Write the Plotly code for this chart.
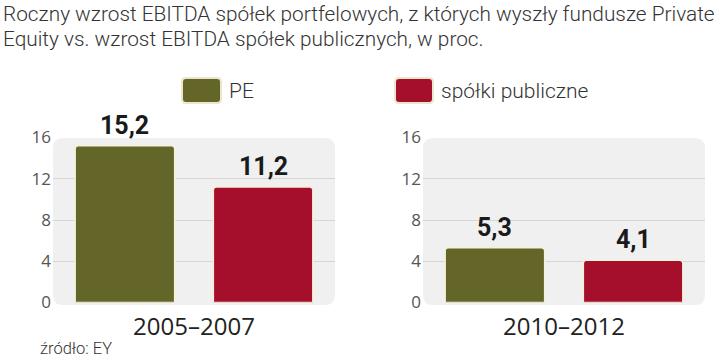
import plotly.graph_objects as go

# ---- data ----
periods = ["2005–2007", "2010–2012"]
series_names = ["PE", "spółki publiczne"]
pe_values = [15.2, 5.3]
public_values = [11.2, 4.1]
y_ticks = [0, 4, 8, 12, 16]
title_lines = [
    "Roczny wzrost EBITDA spółek portfelowych, z których wyszły fundusze Private",
    "Equity vs. wzrost EBITDA spółek publicznych, w proc.",
]
source_text = "źródło: EY"

colors = ["#646629", "#a50f2c"]
W, H = 720, 358
BARGAP, BARGROUPGAP = 0.02, 0.28

def fmt(v):
    return f"{v:.1f}".replace(".", ",")

def rrect(x0, y0, x1, y1, r):
    """rounded rectangle path in paper coords from pixel box (top-left origin)"""
    px0, px1 = x0 / W, x1 / W
    py0, py1 = 1 - y1 / H, 1 - y0 / H
    rx, ry = r / W, r / H
    return (f"M {px0+rx},{py0} L {px1-rx},{py0} Q {px1},{py0} {px1},{py0+ry} "
            f"L {px1},{py1-ry} Q {px1},{py1} {px1-rx},{py1} L {px0+rx},{py1} "
            f"Q {px0},{py1} {px0},{py1-ry} L {px0},{py0+ry} Q {px0},{py0} {px0+rx},{py0} Z")

# panel placement in pixels
panels_px = [(53, 335), (423, 705)]
y_bot_px, y_top_px = 302.5, 137.5

fig = go.Figure()
for i, period in enumerate(periods):
    xa = "x" if i == 0 else f"x{i+1}"
    ya = "y" if i == 0 else f"y{i+1}"
    for s, vals in enumerate([pe_values, public_values]):
        fig.add_trace(go.Bar(
            x=[period], y=[vals[i]], name=series_names[s],
            xaxis=xa, yaxis=ya, showlegend=False,
            marker=dict(color=colors[s], line=dict(color="#f4f1d8", width=1.5),
                        cornerradius=3),
            offsetgroup=str(s), hoverinfo="x+y",
        ))

tickfont = dict(family="Open Sans, Noto Sans, sans-serif", size=17, color="#555555")
catfont = dict(family="Open Sans, Noto Sans, sans-serif", size=24, color="#222222")
labfont = dict(family="Roboto, sans-serif", size=25, color="#1a1a1a", weight="bold")
txtfamily = "Roboto, sans-serif"

layout = dict(
    width=W, height=H, margin=dict(l=0, r=0, t=0, b=0, pad=0, autoexpand=False),
    template="none",
    paper_bgcolor="white", plot_bgcolor="rgba(0,0,0,0)",
    barmode="group", bargap=BARGAP, bargroupgap=BARGROUPGAP,
    showlegend=False,
)
shapes = []
annotations = []
ydom = [1 - y_bot_px / H, 1 - y_top_px / H]
for i, (x0, x1) in enumerate(panels_px):
    sx = "" if i == 0 else str(i + 1)
    layout[f"xaxis{sx}"] = dict(
        domain=[x0 / W, x1 / W], anchor=f"y{sx}", showgrid=False, zeroline=False,
        showline=False, ticks="", tickfont=catfont, fixedrange=True,
        automargin=False, ticklabelstandoff=7, range=[-0.5, 0.5],
        autorange=False,
    )
    layout[f"yaxis{sx}"] = dict(
        domain=ydom, anchor=f"x{sx}", range=[0, 16], tickvals=y_ticks,
        autorange=False,
        showgrid=True, gridcolor="#d6d6d6", gridwidth=1, zeroline=False,
        showline=False, ticks="", tickfont=tickfont, ticklabelstandoff=1,
        fixedrange=True, automargin=False,
    )
    # rounded light background panel
    shapes.append(dict(type="path", path=rrect(x0, 138, x1, 305, 10),
                       xref="paper", yref="paper",
                       fillcolor="#f0f0f0", line=dict(width=0), layer="below"))

    # value labels above bars (offset derived from bar group geometry)
    axis_w = x1 - x0
    slot = axis_w * (1 - BARGAP) / 2
    for s, vals in enumerate([pe_values, public_values]):
        annotations.append(dict(
            text=fmt(vals[i]), x=period, y=vals[i], xref=f"x{sx}", yref=f"y{sx}",
            xanchor="center", yanchor="bottom", showarrow=False,
            xshift=(s - 0.5) * slot, yshift=4, font=labfont,
        ))

# title
for k, line in enumerate(title_lines):
    annotations.append(dict(
        text=line, x=1 / W, y=1 - (13.5 + 26 * k) / H, xref="paper", yref="paper",
        xanchor="left", yanchor="middle", showarrow=False,
        font=dict(family=txtfamily, size=20.8, color="#333333", weight=300),
    ))

# legend built from series names / colors
leg_box = [(182, 221), (395, 433)]
for s, name in enumerate(series_names):
    bx0, bx1 = leg_box[s]
    shapes.append(dict(type="path", path=rrect(bx0, 78, bx1, 103, 4),
                       xref="paper", yref="paper",
                       fillcolor=colors[s], line=dict(color="#ebe6cc", width=2)))
    annotations.append(dict(
        text=name, x=(bx1 + 6) / W, y=1 - 91 / H, xref="paper", yref="paper",
        xanchor="left", yanchor="middle", showarrow=False,
        font=dict(family=txtfamily, size=21, color="#333333", weight=300),
    ))

annotations.append(dict(
    text=source_text, x=38 / W, y=1 - 348.5 / H, xref="paper", yref="paper",
    xanchor="left", yanchor="middle", showarrow=False,
    font=dict(family=txtfamily, size=16.5, color="#333333", weight=300),
))

layout["shapes"] = shapes
layout["annotations"] = annotations
fig.update_layout(**layout)
fig.write_html("out.html",
               config={"displayModeBar": False},
               post_script="document.body.style.margin='0';document.body.style.overflow='hidden';")
